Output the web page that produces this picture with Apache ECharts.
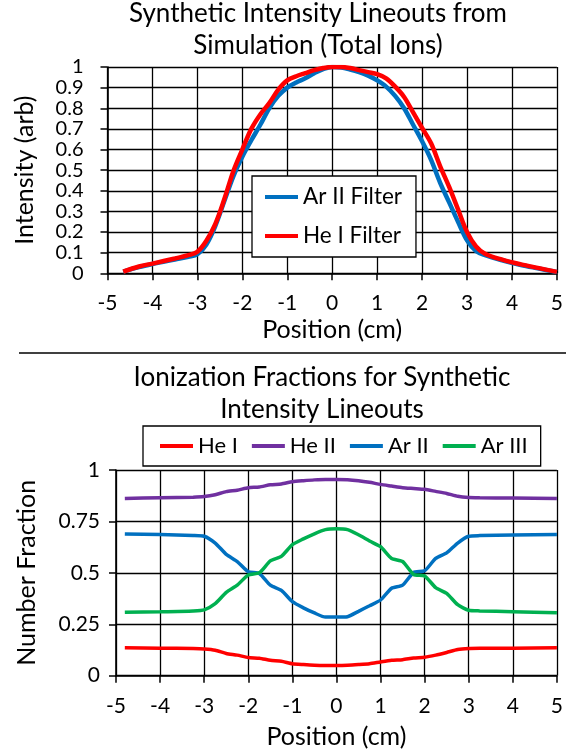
<!DOCTYPE html>
<html>
<head>
<meta charset="utf-8">
<script src="https://cdn.jsdelivr.net/npm/echarts@6/dist/echarts.min.js"></script>
<style>
html,body{margin:0;padding:0;background:#fff;}
#c{width:566px;height:754px;}
</style>
</head>
<body>
<div id="c"></div>
<script>
// ---- Top chart data ----
const topTitle = 'Synthetic Intensity Lineouts from\nSimulation (Total Ions)';
const topX = [-4.65,-4.3,-4.0,-3.5,-3.2,-3.0,-2.8,-2.6,-2.4,-2.2,-2.0,-1.8,-1.6,-1.4,-1.2,-1.0,-0.8,-0.6,-0.4,-0.2,0,0.2,0.4,0.6,0.8,1.0,1.2,1.4,1.6,1.8,2.0,2.2,2.4,2.6,2.8,3.0,3.2,3.4,3.8,4.2,4.6,5.0];
const arIIFilter = [0.008,0.03,0.045,0.067,0.08,0.093,0.14,0.23,0.35,0.47,0.565,0.645,0.72,0.80,0.86,0.90,0.925,0.945,0.97,0.99,1.0,0.998,0.988,0.975,0.958,0.935,0.905,0.86,0.80,0.72,0.64,0.55,0.44,0.345,0.25,0.16,0.108,0.088,0.062,0.04,0.023,0.006];
const heIFilter = [0.008,0.033,0.047,0.072,0.088,0.105,0.158,0.24,0.36,0.495,0.60,0.70,0.77,0.825,0.89,0.935,0.955,0.97,0.985,0.995,1.0,1.0,0.995,0.985,0.975,0.965,0.945,0.905,0.855,0.78,0.705,0.63,0.52,0.42,0.31,0.20,0.13,0.095,0.065,0.043,0.025,0.007];
const topSeriesNames = ['Ar II Filter','He I Filter'];

// ---- Bottom chart data ----
const botTitle = 'Ionization Fractions for Synthetic\nIntensity Lineouts';
const botX = [-4.8,-4,-3.25,-3,-2.75,-2.5,-2.25,-2,-1.75,-1.5,-1.25,-1,-0.75,-0.5,-0.25,0,0.25,0.5,0.75,1,1.25,1.5,1.75,2,2.25,2.5,2.75,3,3.25,4,5];
const heI   = [0.136,0.134,0.132,0.13,0.124,0.108,0.1,0.088,0.085,0.075,0.07,0.058,0.054,0.051,0.05,0.05,0.051,0.054,0.058,0.067,0.075,0.078,0.086,0.09,0.1,0.113,0.127,0.132,0.133,0.134,0.136];
const heII  = [0.862,0.865,0.868,0.871,0.88,0.895,0.902,0.914,0.917,0.928,0.932,0.943,0.948,0.952,0.954,0.954,0.953,0.948,0.94,0.93,0.922,0.914,0.91,0.906,0.896,0.886,0.872,0.866,0.865,0.864,0.862];
const arII  = [0.689,0.686,0.682,0.678,0.645,0.59,0.555,0.505,0.497,0.44,0.415,0.36,0.33,0.305,0.285,0.285,0.287,0.313,0.34,0.368,0.425,0.44,0.502,0.51,0.57,0.597,0.645,0.678,0.681,0.684,0.687];
const arIII = [0.308,0.311,0.315,0.32,0.35,0.405,0.44,0.49,0.5,0.558,0.58,0.637,0.665,0.69,0.71,0.714,0.71,0.685,0.655,0.627,0.57,0.555,0.492,0.485,0.428,0.40,0.345,0.318,0.315,0.311,0.306];
const botSeriesNames = ['He I','He II','Ar II','Ar III'];

const xName = 'Position (cm)';
const topYName = 'Intensity (arb)';
const botYName = 'Number Fraction';

const FONT = 'Lato';
const zip = (xs, ys) => xs.map((x, i) => [x, ys[i]]);

const axisCommon = {
  axisLine: {show: true, onZero: false, lineStyle: {color: '#000', width: 1.6}},
  axisTick: {show: true, inside: false, length: 7, lineStyle: {color: '#000', width: 1.5}},
  splitLine: {show: true, lineStyle: {color: '#000', width: 1.3}},
  nameLocation: 'middle',
  nameTextStyle: {fontFamily: FONT, fontSize: 25, color: '#000'}
};
const labelStyle = {fontFamily: FONT, fontSize: 21, color: '#000'};

const chart = echarts.init(document.getElementById('c'), null, {renderer: 'canvas'});
chart.setOption({
  animation: false,
  backgroundColor: '#fff',
  title: [
    {text: topTitle, left: 318, top: -2, textAlign: 'center', padding: 0,
     textStyle: {fontFamily: FONT, fontSize: 26, fontWeight: 'normal', color: '#000', lineHeight: 32}},
    {text: botTitle, left: 322, top: 362, textAlign: 'center', padding: 0,
     textStyle: {fontFamily: FONT, fontSize: 26, fontWeight: 'normal', color: '#000', lineHeight: 32}}
  ],
  legend: [
    {data: topSeriesNames, orient: 'vertical', left: 252, top: 176,
     padding: [9, 14, 9, 13], itemGap: 15, itemWidth: 33, itemHeight: 4, itemTextGap: 3,
     icon: 'rect', borderColor: '#000', borderWidth: 1.3, backgroundColor: '#fff',
     textStyle: {fontFamily: FONT, fontSize: 22.5, color: '#000', lineHeight: 24}},
    {data: botSeriesNames, orient: 'horizontal', left: 143, top: 426,
     padding: [8, 13, 8, 17], itemGap: 14, itemWidth: 33, itemHeight: 4, itemTextGap: 3,
     icon: 'rect', borderColor: '#000', borderWidth: 1.3, backgroundColor: '#fff',
     textStyle: {fontFamily: FONT, fontSize: 22, color: '#000', lineHeight: 24}}
  ],
  grid: [
    {left: 107.5, top: 67, width: 452.5, height: 206.3, containLabel: false},
    {left: 116, top: 470, width: 449, height: 205.7, containLabel: false}
  ],
  xAxis: [
    Object.assign({}, axisCommon, {type: 'value', gridIndex: 0, min: -5, max: 5, interval: 1,
      name: xName, nameGap: 44, axisLabel: Object.assign({margin: 19}, labelStyle)}),
    Object.assign({}, axisCommon, {type: 'value', gridIndex: 1, min: -5, max: 5, interval: 1,
      name: xName, nameGap: 49, axisLabel: Object.assign({margin: 20}, labelStyle)})
  ],
  yAxis: [
    Object.assign({}, axisCommon, {type: 'value', gridIndex: 0, min: 0, max: 1, interval: 0.1,
      name: topYName, nameGap: 70,
      axisLabel: {margin: 24, fontFamily: FONT, fontSize: 20, color: '#000'}}),
    Object.assign({}, axisCommon, {type: 'value', gridIndex: 1, min: 0, max: 1, interval: 0.25,
      name: botYName, nameGap: 77, axisLabel: Object.assign({margin: 16}, labelStyle)})
  ],
  graphic: [
    {type: 'line', shape: {x1: 19, y1: 353, x2: 566, y2: 353}, style: {stroke: '#000', lineWidth: 1.5}}
  ],
  series: [
    {name: topSeriesNames[0], type: 'line', xAxisIndex: 0, yAxisIndex: 0, data: zip(topX, arIIFilter),
     showSymbol: false, symbol: 'none', smooth: 0.35, color: '#0070C0', lineStyle: {width: 4.5, color: '#0070C0'}},
    {name: topSeriesNames[1], type: 'line', xAxisIndex: 0, yAxisIndex: 0, data: zip(topX, heIFilter),
     showSymbol: false, symbol: 'none', smooth: 0.35, color: '#FF0000', lineStyle: {width: 4.5, color: '#FF0000'}},
    {name: botSeriesNames[0], type: 'line', xAxisIndex: 1, yAxisIndex: 1, data: zip(botX, heI),
     showSymbol: false, symbol: 'none', smooth: 0.2, color: '#FF0000', lineStyle: {width: 3.5, color: '#FF0000'}},
    {name: botSeriesNames[1], type: 'line', xAxisIndex: 1, yAxisIndex: 1, data: zip(botX, heII),
     showSymbol: false, symbol: 'none', smooth: 0.2, color: '#7030A0', lineStyle: {width: 3.5, color: '#7030A0'}},
    {name: botSeriesNames[2], type: 'line', xAxisIndex: 1, yAxisIndex: 1, data: zip(botX, arII),
     showSymbol: false, symbol: 'none', smooth: 0.2, color: '#0070C0', lineStyle: {width: 3.5, color: '#0070C0'}},
    {name: botSeriesNames[3], type: 'line', xAxisIndex: 1, yAxisIndex: 1, data: zip(botX, arIII),
     showSymbol: false, symbol: 'none', smooth: 0.2, color: '#00B050', lineStyle: {width: 3.5, color: '#00B050'}}
  ]
});
</script>
</body>
</html>
